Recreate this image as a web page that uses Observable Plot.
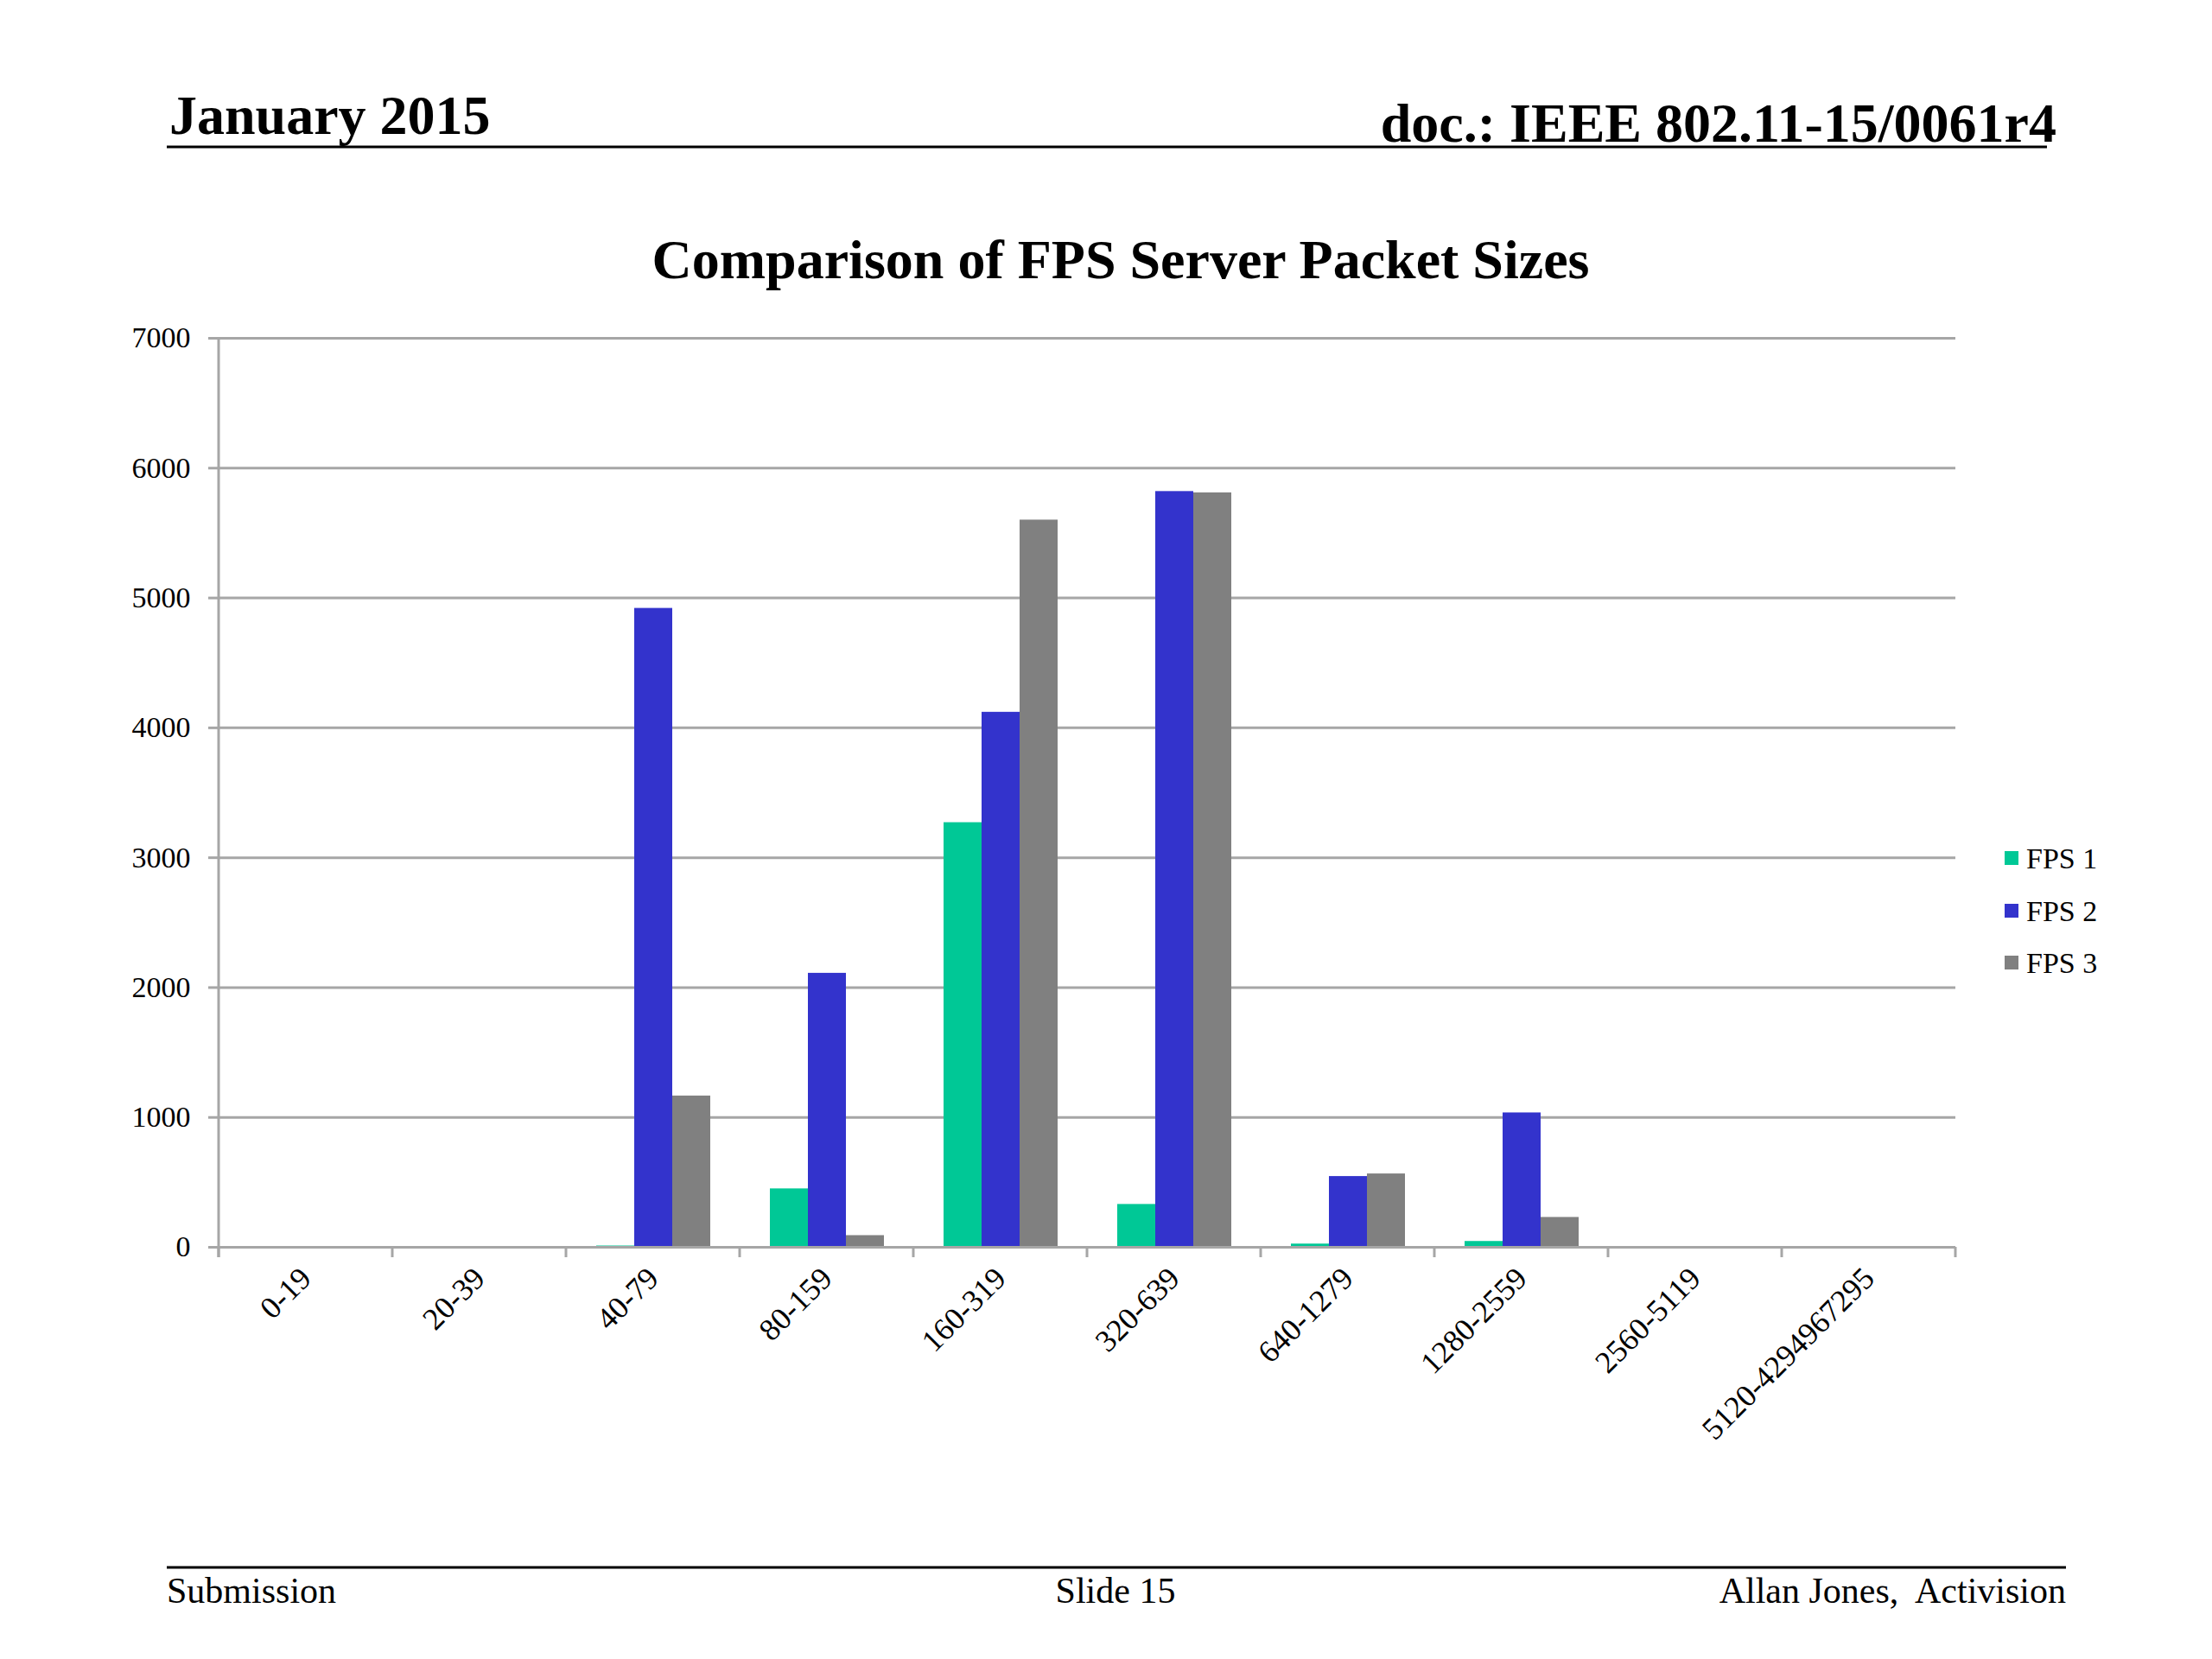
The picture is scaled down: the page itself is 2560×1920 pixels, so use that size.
<!DOCTYPE html>
<html>
<head>
<meta charset="utf-8">
<script src="https://cdn.jsdelivr.net/npm/d3@7"></script>
<script src="https://cdn.jsdelivr.net/npm/@observablehq/plot@0.6"></script>
<style>
  html, body { margin: 0; padding: 0; background: white; }
  svg { display: block; }
</style>
</head>
<body>
<div id="chart"></div>
<script>
const categories = ["0-19","20-39","40-79","80-159","160-319","320-639","640-1279","1280-2559","2560-5119","5120-4294967295"];
const series = ["FPS 1","FPS 2","FPS 3"];
const fps1 = [0, 0, 10, 450, 3270, 330, 25, 45, 0, 0];
const fps2 = [0, 0, 4920, 2110, 4120, 5820, 545, 1035, 0, 0];
const fps3 = [0, 0, 1165, 90, 5600, 5810, 565, 230, 0, 0];
const yTicks = [0, 1000, 2000, 3000, 4000, 5000, 6000, 7000];
const colors = ["#00C896", "#3333CC", "#808080"];

const seriesValues = [fps1, fps2, fps3];
const rows = categories.flatMap((c, i) => series.map((s, j) => ({cat: c, series: s, value: seriesValues[j][i]})));

const FONT = "'Liberation Serif', 'Times New Roman', serif";
const GRID = "#a6a6a6";

const svg = Plot.plot({
  width: 2560,
  height: 1920,
  marginLeft: 252,
  marginRight: 297,
  marginTop: 391,
  marginBottom: 477,
  style: {fontFamily: FONT, fontSize: "34px", background: "white", color: "black"},
  fx: {domain: categories, padding: 0, label: null},
  x: {domain: series, paddingInner: 0, paddingOuter: 0.78, axis: null},
  y: {domain: [0, 7000], axis: null},
  color: {domain: series, range: colors},
  marks: [
    Plot.gridY(yTicks, {stroke: GRID, strokeOpacity: 1, strokeWidth: 3}),
    Plot.barY(rows, {fx: "cat", x: "series", y: "value", fill: "series"}),
    Plot.ruleY([0], {stroke: GRID, strokeWidth: 3}),
    Plot.axisY(yTicks, {tickSize: 12, tickPadding: 21, stroke: GRID, strokeWidth: 3, strokeOpacity: 1, fontSize: 34, label: null, tickFormat: d3.format("d")}),
    Plot.axisFx({anchor: "bottom", tickSize: 0, tickRotate: -45, tickPadding: 30, fontSize: 36, label: null})
  ]
});

const root = d3.select(svg);
const fxs = svg.scale("fx");
const ys = svg.scale("y");
const y0 = ys.apply(0);
const yTop = ys.apply(7000);
const xLeft = fxs.apply(categories[0]);
const boundaries = categories.map(c => fxs.apply(c)).concat([fxs.apply(categories[categories.length - 1]) + fxs.bandwidth]);

const axisG = root.append("g").attr("stroke", GRID).attr("stroke-width", 3);
axisG.append("line").attr("x1", xLeft).attr("x2", xLeft).attr("y1", yTop).attr("y2", y0 + 12);
boundaries.forEach(b => axisG.append("line").attr("x1", b).attr("x2", b).attr("y1", y0).attr("y2", y0 + 12));

const txt = (x, y, s, size, anchor, weight) => root.append("text")
  .attr("x", x).attr("y", y).attr("font-family", FONT).attr("font-size", size)
  .attr("text-anchor", anchor).attr("font-weight", weight).attr("fill", "black")
  .style("white-space", "pre").text(s);

// Header
txt(196, 155, "January 2015", 64, "start", "bold");
txt(2380, 164, "doc.: IEEE 802.11-15/0061r4", 64, "end", "bold");
root.append("line").attr("x1", 193).attr("x2", 2369).attr("y1", 170).attr("y2", 170).attr("stroke", "black").attr("stroke-width", 3);

// Title
txt(1297, 322, "Comparison of FPS Server Packet Sizes", 64, "middle", "bold");

// Footer
root.append("line").attr("x1", 193).attr("x2", 2391).attr("y1", 1814).attr("y2", 1814).attr("stroke", "black").attr("stroke-width", 3);
txt(193, 1855, "Submission", 42, "start", "normal");
txt(1291, 1855, "Slide 15", 42, "middle", "normal");
txt(2391, 1855, "Allan Jones,  Activision", 42, "end", "normal");

// Legend
const colorScale = svg.scale("color");
const legendY = [993, 1054, 1114];
series.forEach((s, i) => {
  root.append("rect").attr("x", 2320).attr("y", legendY[i] - 8).attr("width", 16).attr("height", 16).attr("fill", colorScale.apply(s));
  txt(2345, legendY[i] + 12, s, 34, "start", "normal");
});

document.getElementById("chart").appendChild(svg);
</script>
</body>
</html>
